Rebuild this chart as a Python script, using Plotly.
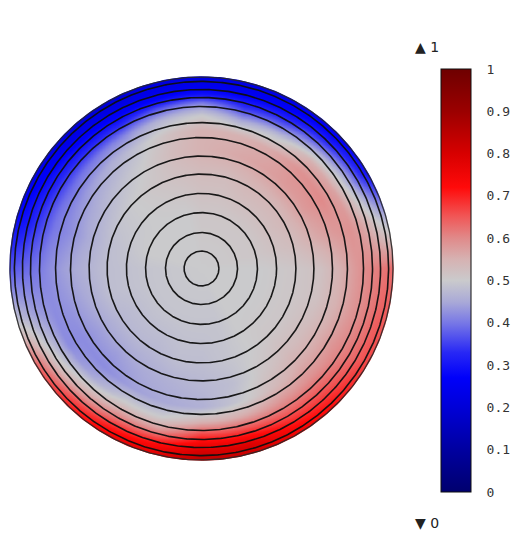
import numpy as np
import plotly.graph_objects as go

# ---------------- data ----------------
# field samples on a polar lattice: angle measured counter-clockwise from 3 o'clock
ANGLES_DEG = [0, 15, 30, 45, 60, 75, 90, 105, 120, 135, 150, 165,
              180, 195, 210, 225, 240, 255, 270, 285, 300, 315, 330, 345]
# radial positions as a fraction of the disk radius
RADII = [0.0, 0.3, 0.5, 0.62, 0.72, 0.8, 0.86, 0.91, 0.95, 1.0]
# FIELD[i][j] = value at angle ANGLES_DEG[i], radius RADII[j]
FIELD = [
    [0.50, 0.50, 0.51, 0.52, 0.55, 0.58, 0.60, 0.61, 0.62, 0.63],   # 0
    [0.50, 0.51, 0.53, 0.56, 0.58, 0.59, 0.57, 0.54, 0.50, 0.46],   # 15
    [0.50, 0.51, 0.54, 0.58, 0.60, 0.57, 0.50, 0.42, 0.35, 0.29],   # 30
    [0.50, 0.51, 0.54, 0.58, 0.59, 0.55, 0.45, 0.36, 0.30, 0.25],   # 45
    [0.50, 0.51, 0.54, 0.57, 0.56, 0.48, 0.38, 0.31, 0.27, 0.23],   # 60
    [0.50, 0.51, 0.53, 0.56, 0.55, 0.45, 0.35, 0.29, 0.25, 0.22],   # 75
    [0.50, 0.51, 0.53, 0.55, 0.55, 0.50, 0.42, 0.30, 0.25, 0.22],   # 90
    [0.50, 0.50, 0.52, 0.53, 0.52, 0.47, 0.38, 0.28, 0.24, 0.21],   # 105
    [0.50, 0.50, 0.51, 0.50, 0.48, 0.42, 0.33, 0.27, 0.23, 0.20],   # 120
    [0.50, 0.50, 0.50, 0.48, 0.45, 0.40, 0.33, 0.28, 0.24, 0.21],   # 135
    [0.50, 0.50, 0.49, 0.46, 0.43, 0.39, 0.34, 0.30, 0.27, 0.24],   # 150
    [0.50, 0.50, 0.48, 0.45, 0.42, 0.40, 0.36, 0.33, 0.30, 0.28],   # 165
    [0.50, 0.49, 0.48, 0.46, 0.44, 0.42, 0.40, 0.39, 0.38, 0.37],   # 180
    [0.50, 0.49, 0.48, 0.45, 0.43, 0.42, 0.43, 0.44, 0.46, 0.48],   # 195
    [0.50, 0.49, 0.47, 0.44, 0.42, 0.42, 0.47, 0.52, 0.58, 0.64],   # 210
    [0.50, 0.49, 0.47, 0.44, 0.42, 0.45, 0.52, 0.58, 0.65, 0.70],   # 225
    [0.50, 0.49, 0.47, 0.45, 0.44, 0.50, 0.57, 0.64, 0.70, 0.75],   # 240
    [0.50, 0.49, 0.48, 0.46, 0.45, 0.50, 0.57, 0.66, 0.73, 0.79],   # 255
    [0.50, 0.49, 0.48, 0.47, 0.46, 0.55, 0.66, 0.74, 0.80, 0.85],   # 270
    [0.50, 0.49, 0.49, 0.48, 0.49, 0.56, 0.65, 0.73, 0.79, 0.83],   # 285
    [0.50, 0.50, 0.50, 0.51, 0.53, 0.58, 0.63, 0.68, 0.72, 0.76],   # 300
    [0.50, 0.50, 0.51, 0.53, 0.56, 0.59, 0.63, 0.66, 0.69, 0.72],   # 315
    [0.50, 0.50, 0.51, 0.53, 0.56, 0.59, 0.61, 0.63, 0.65, 0.67],   # 330
    [0.50, 0.50, 0.51, 0.52, 0.55, 0.58, 0.60, 0.62, 0.64, 0.65],   # 345
]
# radii of the black contour circles (fraction of disk radius)
CONTOUR_RADII = [0.091, 0.188, 0.292, 0.392, 0.493, 0.587, 0.684,
                 0.762, 0.846, 0.893, 0.935, 0.977]
CBAR_TICKS = [0, 0.1, 0.2, 0.3, 0.4, 0.5, 0.6, 0.7, 0.8, 0.9, 1]
CBAR_LABELS = ["0", "0.1", "0.2", "0.3", "0.4", "0.5", "0.6", "0.7", "0.8", "0.9", "1"]
MAX_LABEL = "\u25B2 1"
MIN_LABEL = "\u25BC 0"

COLORSCALE = [
    [0.00, "rgb(0,0,110)"], [0.10, "rgb(0,0,160)"], [0.20, "rgb(0,0,215)"],
    [0.27, "rgb(0,0,250)"], [0.33, "rgb(40,40,245)"], [0.40, "rgb(120,120,230)"],
    [0.45, "rgb(170,170,215)"], [0.50, "rgb(202,202,204)"], [0.55, "rgb(214,178,178)"],
    [0.60, "rgb(224,138,138)"], [0.65, "rgb(240,88,88)"], [0.72, "rgb(255,10,10)"],
    [0.80, "rgb(215,0,0)"], [0.90, "rgb(155,0,0)"], [1.00, "rgb(110,0,0)"],
]

# ---------------- render grid (resampled from the polar samples) ----------------
W, H = 517, 540
CX, CY, RPX = 201.5, 268.5, 191.5          # disk centre and radius in page pixels
xr = [-CX / RPX, (W - CX) / RPX]
yr = [-(H - CY) / RPX, CY / RPX]

A = np.array(ANGLES_DEG, float)
Rk = np.array(RADII, float)
F = np.array(FIELD, float)
n = 261
g = np.linspace(-1.03, 1.03, n)
X, Y = np.meshgrid(g, g)
Rg = np.clip(np.hypot(X, Y), 0, 1)
T = np.degrees(np.arctan2(Y, X)) % 360
step = 360 / len(A)
i0 = (T // step).astype(int) % len(A)
i1 = (i0 + 1) % len(A)
fa = (T - i0 * step) / step
j = np.clip(np.searchsorted(Rk, Rg, side="right") - 1, 0, len(Rk) - 2)
tr = (Rg - Rk[j]) / (Rk[j + 1] - Rk[j])


def radial(i):
    return F[i, j] * (1 - tr) + F[i, j + 1] * tr


Z = (1 - fa) * radial(i0) + fa * radial(i1)

fig = go.Figure()
fig.add_trace(go.Heatmap(
    x=g, y=g, z=Z, zmin=0, zmax=1, zsmooth="best", colorscale=COLORSCALE,
    hoverinfo="skip",
    colorbar=dict(
        x=441 / W, xanchor="left", y=1 - 280.5 / H, yanchor="middle",
        thickness=30, thicknessmode="pixels", len=423, lenmode="pixels",
        xpad=0, ypad=0, outlinewidth=1, outlinecolor="#111",
        tickvals=CBAR_TICKS, ticktext=CBAR_LABELS, ticks="outside", ticklen=13,
        tickcolor="rgba(0,0,0,0)",
        tickfont=dict(family="DejaVu Sans Mono", size=13, color="#333"),
    ),
))

# white mask outside the disk
th = np.linspace(0, 2 * np.pi, 721)
rm = 1.004
mx = [-1.1, 1.1, 1.1, -1.1, -1.1, rm] + [rm * np.cos(t) for t in -th] + [rm, -1.1]
my = [-1.1, -1.1, 1.1, 1.1, -1.1, 0] + [rm * np.sin(t) for t in -th] + [0, -1.1]
fig.add_trace(go.Scatter(x=mx, y=my, mode="lines", fill="toself",
                         fillcolor="white", line=dict(width=0, color="white"),
                         hoverinfo="skip", showlegend=False))

for r in CONTOUR_RADII:
    fig.add_trace(go.Scatter(x=r * np.cos(th), y=r * np.sin(th), mode="lines",
                             line=dict(color="rgba(15,15,15,0.95)", width=1.6),
                             hoverinfo="skip", showlegend=False))
fig.add_trace(go.Scatter(x=np.cos(th), y=np.sin(th), mode="lines",
                         line=dict(color="rgba(40,40,40,0.9)", width=1.3),
                         hoverinfo="skip", showlegend=False))

fig.add_annotation(text=MAX_LABEL, xref="paper", yref="paper", x=413 / W, y=1 - 47 / H,
                   xanchor="left", yanchor="middle", showarrow=False,
                   font=dict(family="DejaVu Sans", size=14, color="#222"))
fig.add_annotation(text=MIN_LABEL, xref="paper", yref="paper", x=413 / W, y=1 - 523 / H,
                   xanchor="left", yanchor="middle", showarrow=False,
                   font=dict(family="DejaVu Sans", size=14, color="#222"))

fig.update_layout(
    width=W, height=H, margin=dict(l=0, r=0, t=0, b=0, autoexpand=False),
    paper_bgcolor="white", plot_bgcolor="white", showlegend=False,
    xaxis=dict(range=xr, visible=False, fixedrange=True),
    yaxis=dict(range=yr, visible=False, fixedrange=True),
)
fig.write_html("out.html")
